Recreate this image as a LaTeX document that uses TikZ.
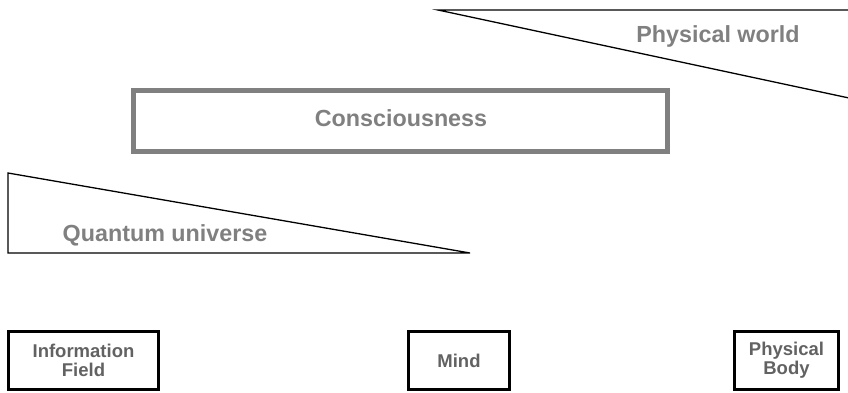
\documentclass[tikz,border=0pt]{standalone}
\usepackage{fontspec}
\setmainfont{Liberation Sans}
\begin{document}
\begin{tikzpicture}[x=1pt,y=-1pt,
  biglabel/.style={text=biggray,font=\fontsize{23.3}{26}\selectfont\bfseries,inner sep=0pt},
  smalllabel/.style={text=smallgray,font=\fontsize{18.5}{19}\selectfont\bfseries,align=center,inner sep=0pt},
  smallbox/.style={draw=black,line width=3pt,inner sep=0pt,minimum height=58pt},
  wedge/.style={draw=black,line width=1.3pt}]
\definecolor{biggray}{RGB}{128,128,128}
\definecolor{smallgray}{RGB}{98,98,98}
\useasboundingbox (0,0) rectangle (848,393);
\fill[white] (0,0) rectangle (848,393);
% Physical world wedge
\coordinate (pw1) at (438,10);
\coordinate (pw2) at (849,10);
\coordinate (pw3) at (849,98);
\draw[wedge] (pw2) -- (pw1) -- (pw3);
\node[biglabel] (pwl) at (718,36) {Physical world};
% Consciousness box
\node[draw=biggray,line width=5pt,minimum width=534pt,minimum height=61pt,inner sep=0pt] (cbox) at (400.5,121) {};
\node[biglabel] (cl) at (401,118) {Consciousness};
% Quantum universe wedge
\coordinate (q1) at (8,173);
\coordinate (q2) at (8,253);
\coordinate (q3) at (470,253);
\draw[wedge,line join=miter] (q1) -- (q2) -- (q3) -- cycle;
\node[biglabel] (ql) at (165,235) {Quantum universe};
% Bottom boxes
\node[smallbox,minimum width=150pt] (info) at (83.5,360.5) {};
\node[smalllabel] at (info.center) {Information\\Field};
\node[smallbox,minimum width=101pt] (mind) at (459,360.5) {};
\node[smalllabel] at (mind.center) {Mind};
\node[smallbox,minimum width=104pt] (body) at (786.5,360.5) {};
\node[smalllabel] at (body.center) {Physical\\Body};
\end{tikzpicture}
\end{document}
